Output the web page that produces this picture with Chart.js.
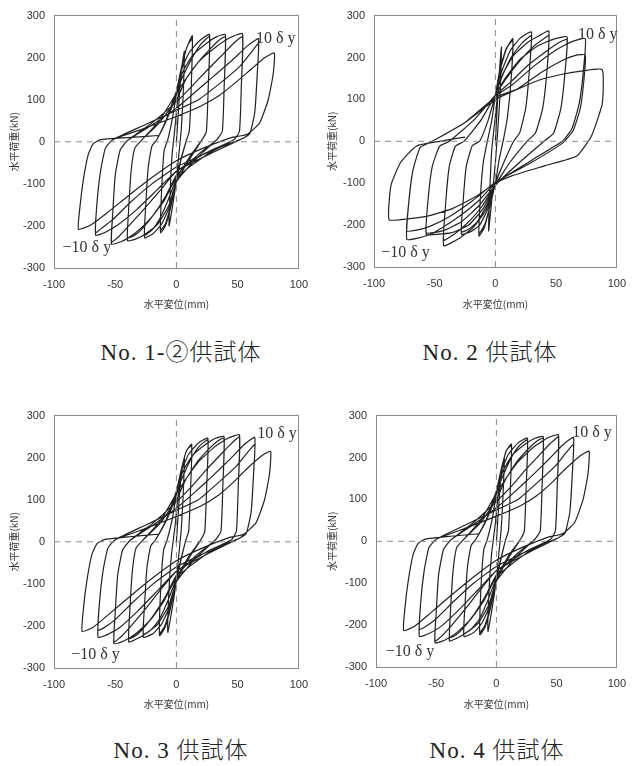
<!DOCTYPE html>
<html lang="ja">
<head>
<meta charset="UTF-8">
<title>水平荷重-水平変位関係</title>
<script src="https://cdn.jsdelivr.net/npm/chart.js"></script>
<style>
  body { margin: 0; background: #fff; }
  #page { position: relative; width: 636px; height: 766px; overflow: hidden; background: #fff; }
  .panel { position: absolute; width: 318px; height: 330px; }
  .caption {
    position: absolute; transform: translate(-50%, -50%);
    font-family: 'Liberation Serif', 'DejaVu Serif', 'Noto Sans CJK JP', serif;
    font-size: 23px; font-weight: 300; color: #222; white-space: nowrap; letter-spacing: 1px;
  }
</style>
</head>
<body>
<div id="page"></div>
<script>
// 軸目盛と軸ラベル
const xTicks = [-100, -50, 0, 50, 100];
const yTicks = [-300, -200, -100, 0, 100, 200, 300];
const xTitle = '水平変位(mm)';
const yTitle = '水平荷重(kN)';
const captions = ['No. 1-②供試体', 'No. 2 供試体', 'No. 3 供試体', 'No. 4 供試体'];

// 荷重-変位履歴 [変位mm, 荷重kN]（1δy, 2δy, 4δy ... 12δy の順）
const no1Loop = [
  [0,0],[2,90],[4,170],[6.5,215],
  [5.5,110],[4,30],[2,-30],[0,-90],[-3,-150],[-6,-200],
  [-5,-110],[-3.5,-30],[-1,40],[1,100],
  [4,170],[8,220],[13,252],
  [12,120],[10.5,25],[8,2],[4,-40],[0,-90],[-5,-160],[-9,-200],[-13,-216],
  [-12,-110],[-10,-20],[-7,5],[-3,60],[0,115],
  [4,175],[9,228],[13,245],
  [12,120],[10.5,25],[8,2],[4,-38],[0,-85],[-5,-155],[-9,-195],[-13,-210],
  [-12,-110],[-10,-20],[-7,5],[-3,60],[0,118],
  [4,170],[10,210],[18,238],[27,255],
  [26,130],[24.5,25],[21,5],[11,-40],[0,-95],[-5,-150],[-12,-195],[-19,-218],[-26,-228],
  [-25,-150],[-23,-60],[-20,-10],[-16,5],[-8,55],[0,120],
  [6,160],[13,200],[20,232],[27,250],
  [26,130],[24.5,25],[21,5],[11,-35],[0,-88],[-7,-140],[-14,-185],[-20,-210],[-26,-222],
  [-25,-150],[-23,-60],[-20,-10],[-16,5],[-8,52],[0,112],
  [5,165],[13,205],[25,235],[33,250],[40,255],
  [39,130],[37.5,25],[33,5],[18,-35],[0,-95],[-6,-150],[-15,-195],[-27,-222],[-34,-232],[-40,-235],
  [-39,-160],[-37,-70],[-34,-15],[-28,5],[-14,50],[0,115],
  [8,150],[18,190],[28,222],[35,242],[40,250],
  [39,130],[37.5,25],[33,5],[18,-30],[0,-80],[-9,-130],[-19,-175],[-29,-210],[-35,-224],[-40,-228],
  [-39,-160],[-37,-70],[-34,-15],[-28,5],[-14,45],[0,100],
  [8,150],[18,190],[32,225],[44,248],[54,257],
  [53,130],[51.5,25],[47,5],[25,-30],[0,-85],[-10,-140],[-22,-185],[-34,-218],[-44,-236],[-53,-243],
  [-52,-170],[-50,-80],[-46,-20],[-40,3],[-20,45],[0,95],
  [12,130],[25,170],[38,208],[47,235],[54,250],
  [53,130],[51.5,25],[47,5],[25,-25],[0,-70],[-14,-118],[-27,-162],[-39,-200],[-47,-225],[-53,-238],
  [-52,-170],[-50,-80],[-46,-20],[-40,3],[-20,40],[0,80],
  [14,115],[30,155],[46,195],[58,228],[67,245],
  [66,160],[64,70],[60,20],[54,8],[30,-25],[0,-70],[-16,-115],[-32,-160],[-48,-198],[-58,-215],[-66,-222],
  [-65,-150],[-62,-70],[-58,-15],[-52,5],[-26,40],[0,75],
  [18,100],[36,140],[52,180],[61,212],[67,233],
  [66,160],[64,70],[60,20],[54,8],[30,-20],[0,-60],[-20,-100],[-38,-145],[-52,-185],[-61,-205],[-66,-216],
  [-65,-150],[-62,-70],[-58,-15],[-52,5],[-26,32],[0,60],
  [20,85],[35,110],[48,140],[60,170],[72,200],[80,211],
  [79,160],[75,100],[68,45],[58,18],[45,10],[22,-15],[0,-45],[-20,-85],[-40,-130],[-57,-170],[-70,-198],[-80,-208],
  [-79,-160],[-76,-90],[-72,-30],[-68,-5],[-62,5],[-40,10],[-15,15]
];

const no2Loop = [
  [0,0],[2,110],[5,225],
  [4,120],[2,30],[0,-50],[-3,-140],[-5.6,-214],
  [-4.5,-110],[-3,-20],[0,60],
  [4,170],[9,220],[14.3,245],
  [13,150],[10,60],[7,10],[3,-45],[0,-100],[-5,-160],[-9,-205],[-13.5,-226],
  [-12.5,-140],[-10,-50],[-7,-5],[-3,50],[0,110],
  [4,175],[9,222],[14.3,240],
  [13,150],[10,60],[7,10],[3,-45],[0,-100],[-5,-160],[-9,-200],[-13.5,-220],
  [-12.5,-140],[-10,-50],[-7,-5],[-3,50],[0,108],
  [5,165],[12,215],[20,245],[29.6,261],
  [28,170],[25,80],[20,20],[15,0],[7,-50],[0,-100],[-6,-160],[-13,-200],[-20,-215],[-28,-222],
  [-26.5,-140],[-24,-60],[-19,-10],[-13,0],[-6,50],[0,110],
  [6,158],[14,205],[22,235],[29.6,252],
  [28,170],[25,80],[20,20],[15,0],[7,-50],[0,-100],[-7,-152],[-15,-192],[-22,-210],[-28,-216],
  [-26.5,-140],[-24,-60],[-19,-10],[-13,0],[-6,50],[0,110],
  [6,160],[15,205],[27,237],[36,252],[44,263],
  [42.5,170],[39,80],[33,20],[26,0],[12,-50],[0,-105],[-8,-165],[-18,-205],[-30,-232],[-42.6,-249],
  [-41,-150],[-38,-60],[-33,-12],[-26,0],[-12,50],[0,110],
  [9,150],[21,195],[32,228],[39,243],[44,252],
  [42.5,170],[39,80],[33,20],[26,0],[12,-50],[0,-103],[-11,-155],[-23,-195],[-34,-222],[-42.6,-236],
  [-41,-150],[-38,-60],[-33,-12],[-26,0],[-12,50],[0,110],
  [8,150],[20,195],[35,228],[48,244],[59,249],
  [57.5,170],[54,80],[48,20],[40,0],[20,-50],[0,-105],[-10,-160],[-22,-200],[-36,-218],[-48,-222],[-57,-222],
  [-55.5,-140],[-52,-60],[-46,-12],[-38,0],[-18,50],[0,110],
  [12,140],[27,182],[42,215],[52,235],[59,243],
  [57.5,170],[54,80],[48,20],[40,0],[20,-50],[0,-104],[-13,-152],[-28,-192],[-42,-212],[-51,-218],[-57,-218],
  [-55.5,-140],[-52,-60],[-46,-12],[-38,0],[-18,50],[0,108],
  [14,135],[32,180],[50,218],[63,238],[74,245],
  [72.5,170],[69,90],[63,30],[55,0],[30,-45],[0,-100],[-15,-145],[-34,-188],[-52,-220],[-64,-231],[-73,-234],
  [-71.5,-150],[-68,-70],[-62,-15],[-52,0],[-25,45],[0,105],
  [18,125],[38,165],[55,193],[66,205],[74,206],
  [73,150],[70,80],[64,25],[55,-5],[30,-50],[0,-98],[-18,-140],[-38,-180],[-54,-203],[-65,-212],[-73,-214],
  [-71.5,-150],[-68,-70],[-62,-15],[-52,0],[-25,45],[0,100],
  [15,120],[35,145],[55,160],[72,168],[88,171],
  [88,90],[79,12],[67,-35],[41,-58],[14,-82],[0,-100],[-15,-130],[-35,-160],[-55,-178],[-72,-185],[-87.6,-187],
  [-86,-105],[-78,-50],[-65,-11],[-46,0],[-25,10]
];

// No.3 と No.4 は同じ履歴
const no3Loop = [
  [0,0],[2,90],[4,160],[6.5,200],
  [5.5,110],[4,30],[2,-30],[0,-90],[-3,-150],[-7,-215],
  [-6,-110],[-4,-30],[-1,40],[1,100],
  [4,170],[8,215],[12.5,232],
  [11.5,120],[10,25],[7.5,2],[4,-40],[0,-90],[-5,-160],[-9.5,-205],[-13.8,-223],
  [-12.8,-110],[-10.5,-20],[-7.5,5],[-3,60],[0,115],
  [4,172],[8.5,218],[12.5,228],
  [11.5,120],[10,25],[7.5,2],[4,-38],[0,-85],[-5,-155],[-9.5,-200],[-13.8,-218],
  [-12.8,-110],[-10.5,-20],[-7.5,5],[-3,60],[0,118],
  [4,168],[10,208],[18,235],[25.7,246],
  [24.7,130],[23.2,25],[20,5],[10,-40],[0,-95],[-5,-150],[-12,-195],[-19,-218],[-27,-227],
  [-26,-150],[-24,-60],[-21,-10],[-17,5],[-8,55],[0,120],
  [6,160],[12,198],[19,228],[25.7,242],
  [24.7,130],[23.2,25],[20,5],[10,-35],[0,-88],[-7,-140],[-14,-185],[-21,-210],[-27,-220],
  [-26,-150],[-24,-60],[-21,-10],[-17,5],[-8,52],[0,112],
  [5,165],[13,205],[24,232],[32,246],[38.9,250],
  [37.9,130],[36.4,25],[32,5],[17,-35],[0,-95],[-6,-150],[-15,-195],[-27,-222],[-34,-233],[-39,-238],
  [-38,-160],[-36,-70],[-33,-15],[-27,5],[-13,50],[0,115],
  [8,150],[17,190],[27,222],[34,240],[38.9,246],
  [37.9,130],[36.4,25],[32,5],[17,-30],[0,-80],[-9,-130],[-19,-176],[-29,-212],[-35,-226],[-39,-230],
  [-38,-160],[-36,-70],[-33,-15],[-27,5],[-13,45],[0,100],
  [8,150],[18,190],[31,225],[42,246],[51.5,254],
  [50.5,130],[49,25],[45,5],[24,-30],[0,-85],[-10,-140],[-21,-185],[-33,-218],[-43,-236],[-51,-242],
  [-50,-170],[-48,-80],[-44,-20],[-38,3],[-19,45],[0,95],
  [12,130],[24,170],[36,207],[45,234],[51.5,249],
  [50.5,130],[49,25],[45,5],[24,-25],[0,-70],[-14,-118],[-26,-162],[-37,-200],[-45,-225],[-51,-238],
  [-50,-170],[-48,-80],[-44,-20],[-38,3],[-19,40],[0,80],
  [14,115],[29,155],[44,197],[55,230],[64,248],
  [63,160],[61,70],[57,20],[51,8],[28,-25],[0,-70],[-15,-115],[-31,-163],[-46,-203],[-56,-220],[-64,-227],
  [-63,-150],[-60,-70],[-56,-15],[-50,5],[-25,40],[0,75],
  [18,100],[34,140],[49,180],[58,212],[64,231],
  [63,160],[61,70],[57,20],[51,8],[28,-20],[0,-60],[-19,-100],[-36,-145],[-50,-185],[-59,-204],[-64,-210],
  [-63,-150],[-60,-70],[-56,-15],[-50,5],[-25,32],[0,60],
  [20,85],[34,110],[46,140],[57,172],[70,205],[77,215],
  [76,160],[72,100],[65,45],[55,18],[43,10],[21,-15],[0,-45],[-19,-85],[-38,-130],[-55,-172],[-68,-203],[-77,-213],
  [-76,-160],[-73,-90],[-69,-30],[-65,-5],[-59,5],[-38,12],[-15,18]
];
const no4Loop = no3Loop;

// 原点の破線
const zeroV = [[0, -300], [0, 300]];
const zeroH = [[-100, 0], [100, 0]];

// 各図の配置（ページ座標）と δy 注記の位置
const panels = [
  { left: 0, top: 0, plot: { l: 54, r: 304, t: 8, b: 268 }, loop: no1Loop, caption: captions[0], capX: 181, capY: 350,
    marks: [{ text: '10 δ y', x: 65, y: 245 }, { text: '−10 δ y', x: -93, y: -251 }] },
  { left: 318, top: 0, plot: { l: 374, r: 626, t: 10, b: 267 }, loop: no2Loop, caption: captions[1], capX: 490, capY: 350,
    marks: [{ text: '10 δ y', x: 68, y: 255 }, { text: '−10 δ y', x: -94, y: -265 }] },
  { left: 0, top: 400, plot: { l: 54, r: 307, t: 408, b: 668 }, loop: no3Loop, caption: captions[2], capX: 181, capY: 748,
    marks: [{ text: '10 δ y', x: 66, y: 257 }, { text: '−10 δ y', x: -86, y: -269 }] },
  { left: 318, top: 400, plot: { l: 376, r: 630, t: 408, b: 667 }, loop: no4Loop, caption: captions[3], capX: 497, capY: 748,
    marks: [{ text: '10 δ y', x: 63, y: 260 }, { text: '−10 δ y', x: -92, y: -264 }] }
];

const tickFont = { family: "'Liberation Sans', Arial, sans-serif", size: 11 };
const titleFont = { family: "'Noto Sans CJK JP', sans-serif", size: 10 };
const frameColor = '#8a8a8a';

// 10δy / -10δy の注記
const deltaLabels = {
  id: 'deltaLabels',
  afterDatasetsDraw(chart, args, opts) {
    const { ctx, scales: { x, y } } = chart;
    ctx.save();
    ctx.font = "16px 'Liberation Serif', 'DejaVu Serif', serif";
    ctx.fillStyle = '#333';
    ctx.textBaseline = 'middle';
    ctx.textAlign = 'left';
    (opts.items || []).forEach(m => {
      ctx.fillText(m.text, x.getPixelForValue(m.x), y.getPixelForValue(m.y));
    });
    ctx.restore();
  }
};

function edgeOnly(limit) {
  return c => (c.tick && Math.abs(c.tick.value) === limit) ? frameColor : 'rgba(0,0,0,0)';
}

const page = document.getElementById('page');

panels.forEach(p => {
  const box = document.createElement('div');
  box.className = 'panel';
  box.style.left = p.left + 'px';
  box.style.top = p.top + 'px';
  const canvas = document.createElement('canvas');
  canvas.width = 318;
  canvas.height = 330;
  box.appendChild(canvas);
  page.appendChild(box);

  const cap = document.createElement('div');
  cap.className = 'caption';
  cap.textContent = p.caption;
  cap.style.left = p.capX + 'px';
  cap.style.top = p.capY + 'px';
  page.appendChild(cap);

  const padBottom = 20;
  const yAxisW = p.plot.l - p.left;
  const xAxisH = (p.top + 330 - padBottom) - p.plot.b;

  new Chart(canvas, {
    type: 'scatter',
    data: {
      datasets: [
        { data: zeroV, showLine: true, pointRadius: 0, borderColor: frameColor, borderWidth: 1, borderDash: [6, 5] },
        { data: zeroH, showLine: true, pointRadius: 0, borderColor: frameColor, borderWidth: 1, borderDash: [6, 5] },
        { data: p.loop, showLine: true, pointRadius: 0, borderColor: '#222', borderWidth: 1.2, tension: 0.15 }
      ]
    },
    options: {
      responsive: false,
      devicePixelRatio: 1,
      animation: false,
      events: [],
      layout: { padding: { left: 0, top: p.plot.t - p.top, right: p.left + 318 - p.plot.r, bottom: padBottom } },
      plugins: {
        legend: { display: false },
        tooltip: { enabled: false },
        deltaLabels: { items: p.marks }
      },
      scales: {
        x: {
          type: 'linear', min: -100, max: 100,
          afterBuildTicks: s => { s.ticks = xTicks.map(v => ({ value: v })); },
          afterFit: s => { s.height = xAxisH; },
          grid: { drawTicks: false, color: edgeOnly(100) },
          border: { color: frameColor },
          ticks: { padding: 10, color: '#333', font: tickFont, callback: v => String(v) },
          title: { display: true, text: xTitle, color: '#333', font: titleFont, padding: { top: 0, bottom: 0 } }
        },
        y: {
          type: 'linear', min: -300, max: 300,
          afterBuildTicks: s => { s.ticks = yTicks.map(v => ({ value: v })); },
          afterFit: s => { s.width = yAxisW; },
          grid: { drawTicks: false, color: edgeOnly(300) },
          border: { color: frameColor },
          ticks: { padding: 9, color: '#333', font: tickFont, callback: v => String(v) },
          title: { display: true, text: yTitle, color: '#333', font: titleFont, padding: { top: 8, bottom: 0 } }
        }
      }
    },
    plugins: [deltaLabels]
  });
});
</script>
</body>
</html>
